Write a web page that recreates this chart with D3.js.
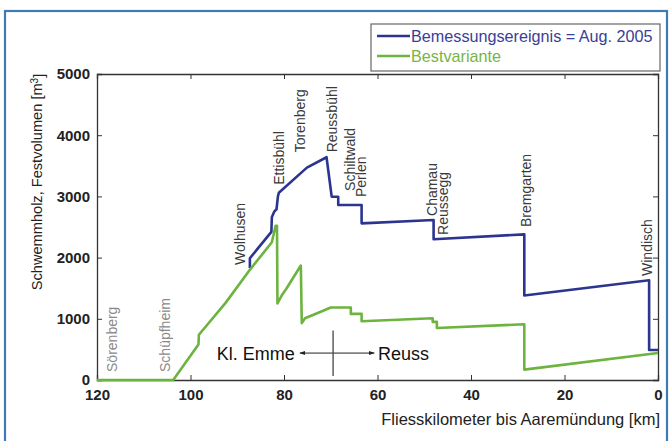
<!DOCTYPE html>
<html><head><meta charset="utf-8">
<script src="https://cdn.jsdelivr.net/npm/d3@7/dist/d3.min.js"></script>
<style>
body{margin:0;background:#fff}
svg{display:block}
text{font-family:"Liberation Sans",Arial,sans-serif}
</style>
</head><body>
<svg id="chart" width="669" height="441"></svg>
<script>
// ---- data ----
const xTicks = [120, 100, 80, 60, 40, 20, 0];
const yTicks = [0, 1000, 2000, 3000, 4000, 5000];
const seriesNames = ["Bemessungsereignis = Aug. 2005", "Bestvariante"];

const blueKm  = [87.3, 87.3, 82.7, 82.6, 82.1, 81.6, 81.3, 81.1, 75.1, 70.9, 69.8, 68.4, 68.4, 63.4, 63.4, 48.0, 48.0, 28.6, 28.6, 1.9, 1.9, 0];
const blueVol = [1830, 1990, 2420, 2660, 2750, 2790, 3000, 3060, 3470, 3640, 2995, 2995, 2860, 2860, 2560, 2614, 2300, 2380, 1380, 1630, 490, 490];

const greenKm  = [120, 103.7, 98.3, 98.2, 92.5, 87.3, 82.6, 81.8, 81.5, 81.4, 80.5, 79.5, 76.4, 76.2, 75.5, 72.0, 70.0, 65.7, 65.7, 63.4, 63.4, 48.2, 48.2, 47.3, 47.3, 28.6, 28.6, 0];
const greenVol = [0, 0, 580, 740, 1260, 1800, 2250, 2520, 2520, 1250, 1380, 1490, 1870, 930, 1010, 1120, 1185, 1185, 1080, 1080, 960, 1010, 950, 950, 850, 910, 170, 440];

const placeNames = ["Sörenberg", "Schüpfheim", "Wolhusen", "Ettisbühl", "Torenberg", "Reussbühl", "Schiltwald", "Perlen", "Chamau", "Reussegg", "Bremgarten", "Windisch"];
const placeKm    = [116.8, 105.5, 89.4, 81.0, 76.6, 69.8, 65.8, 63.5, 48.4, 46.0, 28.3, 2.3];
const placeVol   = [131, 131, 1880, 3190, 3720, 3720, 3090, 2990, 2680, 2370, 2500, 1700];

const riverLabels = ["Kl. Emme", "Reuss"];
const confluenceKm = 69.5;

// ---- layout ----
const svg = d3.select("#chart");
const x = d3.scaleLinear().domain([120, 0]).range([97, 658]);
const y = d3.scaleLinear().domain([0, 5000]).range([380, 74]);
const blueC = "#2b3590", greenC = "#6db33f";

// outer frame
svg.append("rect").attr("x", 5).attr("y", 11).attr("width", 662).attr("height", 440)
  .attr("fill", "none").attr("stroke", "#3f7cb6").attr("stroke-width", 2.2);

// axes
const axCol = "#333";
const gB = svg.append("g").attr("transform", `translate(0,${y(0)})`)
  .call(d3.axisBottom(x).tickValues(xTicks).tickSize(-5).tickPadding(9).tickFormat(d3.format("d")));
const gT = svg.append("g").attr("transform", `translate(0,${y(5000)})`)
  .call(d3.axisTop(x).tickValues(xTicks).tickSize(-5).tickFormat(""));
const gL = svg.append("g").attr("transform", `translate(${x(120)},0)`)
  .call(d3.axisLeft(y).tickValues(yTicks).tickSize(-5).tickPadding(7).tickFormat(d3.format("d")));
const gR = svg.append("g").attr("transform", `translate(${x(0)},0)`)
  .call(d3.axisRight(y).tickValues(yTicks).tickSize(-5).tickFormat(""));
[gB, gT, gL, gR].forEach(g => {
  g.select(".domain").attr("stroke", axCol).attr("stroke-width", 1.3);
  g.selectAll(".tick line").attr("stroke", axCol).attr("stroke-width", 1);
  g.selectAll("text").attr("font-size", 15).attr("font-weight", "bold").attr("fill", "#222")
    .style("font-family", '"Liberation Sans", Arial, sans-serif');
});
gB.selectAll(".tick text").attr("dy", "0.71em");

// axis titles
svg.append("text").attr("x", 660).attr("y", 425).attr("text-anchor", "end")
  .attr("font-size", 16.5).attr("fill", "#222").text("Fliesskilometer bis Aaremündung [km]");
const yt = svg.append("text").attr("transform", "translate(42,182) rotate(-90)")
  .attr("text-anchor", "middle").attr("font-size", 14.6).attr("fill", "#222");
yt.append("tspan").text("Schwemmholz, Festvolumen [m");
yt.append("tspan").attr("dy", "-0.45em").attr("font-size", 10).text("3");
yt.append("tspan").attr("dy", "0.45em").text("]");

// series
const line = d3.line().x(d => x(d[0])).y(d => y(d[1]));
const blueData = blueKm.map((k, i) => [k, blueVol[i]]);
const greenData = greenKm.map((k, i) => [k, greenVol[i]]);
svg.append("path").datum(blueData).attr("d", line).attr("fill", "none")
  .attr("stroke", blueC).attr("stroke-width", 2.6).attr("stroke-linejoin", "round");
svg.append("path").datum(greenData).attr("d", line).attr("fill", "none")
  .attr("stroke", greenC).attr("stroke-width", 2.6).attr("stroke-linejoin", "round");

// place labels (vertical)
const faint = new Set(["Sörenberg", "Schüpfheim"]);
placeNames.forEach((n, i) => {
  svg.append("text")
    .attr("transform", `translate(${x(placeKm[i])},${y(placeVol[i])}) rotate(-90)`)
    .attr("dy", "0.35em").attr("font-size", 14)
    .attr("fill", faint.has(n) ? "#8a8a8a" : "#3a3a3a")
    .text(n);
});

// river annotation
const defs = svg.append("defs");
defs.append("marker").attr("id", "ah").attr("viewBox", "0 0 10 10").attr("refX", 9).attr("refY", 5)
  .attr("markerWidth", 6).attr("markerHeight", 6).attr("orient", "auto-start-reverse")
  .append("path").attr("d", "M0,1.5 L10,5 L0,8.5 Z").attr("fill", "#222");
const ay = y(440);
svg.append("line").attr("x1", x(confluenceKm + 7.1)).attr("x2", x(confluenceKm - 8.8))
  .attr("y1", ay).attr("y2", ay).attr("stroke", "#222").attr("stroke-width", 1)
  .attr("marker-start", "url(#ah)").attr("marker-end", "url(#ah)");
svg.append("line").attr("x1", x(confluenceKm)).attr("x2", x(confluenceKm))
  .attr("y1", y(810)).attr("y2", y(65)).attr("stroke", "#444").attr("stroke-width", 1.3);
svg.append("text").attr("x", x(confluenceKm + 8.2)).attr("y", ay).attr("dy", "0.36em")
  .attr("text-anchor", "end").attr("font-size", 18).attr("fill", "#111").text(riverLabels[0]);
svg.append("text").attr("x", x(confluenceKm - 9.6)).attr("y", ay).attr("dy", "0.36em")
  .attr("font-size", 18).attr("fill", "#111").text(riverLabels[1]);

// legend
const lg = svg.append("g");
lg.append("rect").attr("x", 371).attr("y", 24).attr("width", 289).attr("height", 47)
  .attr("fill", "#fff").attr("stroke", "#666").attr("stroke-width", 1.2);
[blueC, greenC].forEach((c, i) => {
  const ly = 36 + i * 20;
  lg.append("line").attr("x1", 377).attr("x2", 410).attr("y1", ly).attr("y2", ly)
    .attr("stroke", c).attr("stroke-width", 2.4);
  lg.append("text").attr("x", 411).attr("y", ly).attr("dy", "0.36em").attr("font-size", 16.2)
    .attr("fill", i === 0 ? "#3a4097" : "#76b547").text(seriesNames[i]);
});
</script>
</body></html>
